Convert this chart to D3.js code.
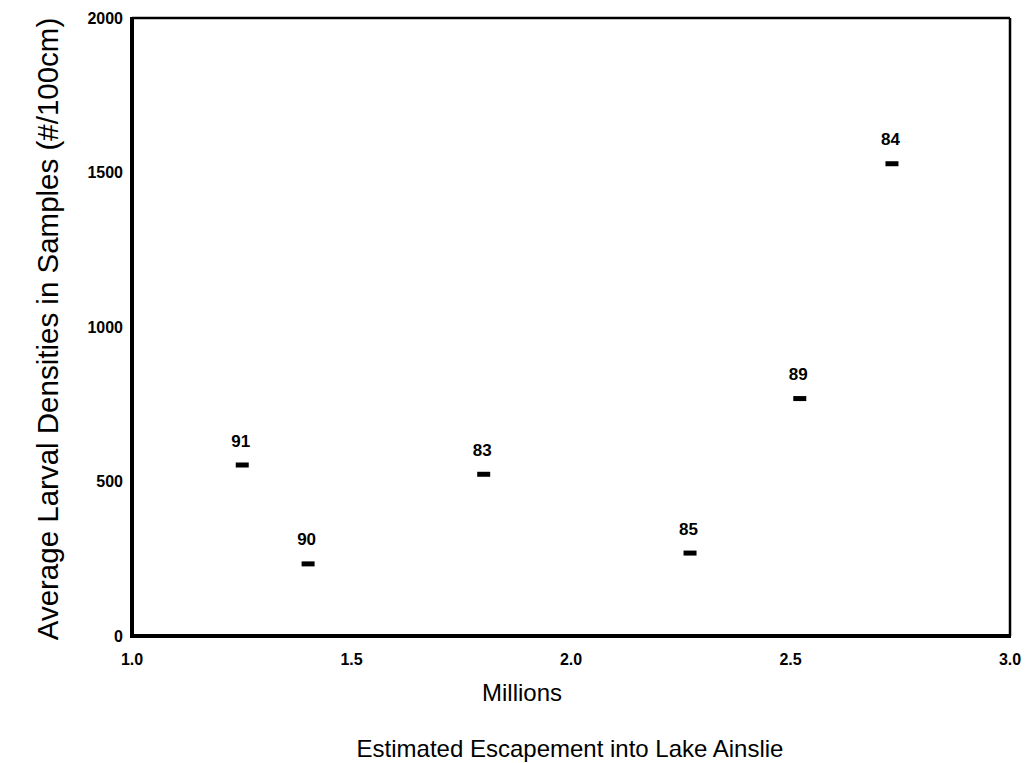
<!DOCTYPE html>
<html>
<head>
<meta charset="utf-8">
<script src="https://cdn.jsdelivr.net/npm/d3@7"></script>
<style>
  body { margin: 0; background: #fff; }
  text { font-family: "Liberation Sans", Arial, Helvetica, sans-serif; fill: #000; }
</style>
</head>
<body>
<div id="chart"></div>
<script>
// data: year label, escapement (millions), larval density
const years = ["91", "90", "83", "85", "89", "84"];
const escapement = [1.25, 1.40, 1.80, 2.27, 2.52, 2.73];
const density = [555, 235, 525, 270, 770, 1530];
const xTicks = ["1.0", "1.5", "2.0", "2.5", "3.0"];
const yTicks = [0, 500, 1000, 1500, 2000];

const width = 1029, height = 763;
const margin = { top: 18, right: 19, bottom: 127, left: 132 };

const svg = d3.select("#chart")
  .append("svg")
  .attr("width", width)
  .attr("height", height);

const x = d3.scaleLinear()
  .domain([1, 3])
  .range([margin.left, width - margin.right]);

const y = d3.scaleLinear()
  .domain([0, 2000])
  .range([height - margin.bottom, margin.top]);

// frame: heavy left/bottom, lighter top/right
svg.append("line")
  .attr("x1", x(1)).attr("x2", x(3))
  .attr("y1", y(2000)).attr("y2", y(2000))
  .attr("stroke", "#000").attr("stroke-width", 2.5);
svg.append("line")
  .attr("x1", x(3)).attr("x2", x(3))
  .attr("y1", y(2000)).attr("y2", y(0))
  .attr("stroke", "#000").attr("stroke-width", 2.5);
svg.append("line")
  .attr("x1", x(1)).attr("x2", x(1))
  .attr("y1", y(2000) - 1).attr("y2", y(0) + 2)
  .attr("stroke", "#000").attr("stroke-width", 4);
svg.append("line")
  .attr("x1", x(1) - 2).attr("x2", x(3) + 1)
  .attr("y1", y(0)).attr("y2", y(0))
  .attr("stroke", "#000").attr("stroke-width", 4);

// y tick labels
svg.selectAll(".ytick")
  .data(yTicks)
  .enter()
  .append("text")
  .attr("class", "ytick")
  .attr("x", x(1) - 9)
  .attr("y", d => y(d))
  .attr("dy", "0.35em")
  .attr("text-anchor", "end")
  .style("font-size", "16px")
  .style("font-weight", "bold")
  .text(d => d);

// x tick labels
svg.selectAll(".xtick")
  .data(xTicks)
  .enter()
  .append("text")
  .attr("class", "xtick")
  .attr("x", d => x(+d))
  .attr("y", y(0) + 29)
  .attr("text-anchor", "middle")
  .style("font-size", "16px")
  .style("font-weight", "bold")
  .text(d => d);

// axis titles
svg.append("text")
  .attr("x", 522)
  .attr("y", 701)
  .attr("text-anchor", "middle")
  .style("font-size", "24px")
  .text("Millions");

svg.append("text")
  .attr("x", 570)
  .attr("y", 757)
  .attr("text-anchor", "middle")
  .style("font-size", "24px")
  .text("Estimated Escapement into Lake Ainslie");

svg.append("text")
  .attr("transform", `translate(58, ${(y(0) + y(2000)) / 2 + 2}) rotate(-90)`)
  .attr("text-anchor", "middle")
  .style("font-size", "29.5px")
  .text("Average Larval Densities in Samples (#/100cm)");

// points: short dash markers with year labels
const pts = years.map((yr, i) => ({ yr, ex: escapement[i], d: density[i] }));

svg.selectAll(".mark")
  .data(pts)
  .enter()
  .append("rect")
  .attr("class", "mark")
  .attr("x", d => x(d.ex) - 6)
  .attr("y", d => y(d.d) - 2)
  .attr("width", 13)
  .attr("height", 5)
  .attr("fill", "#000");

svg.selectAll(".lbl")
  .data(pts)
  .enter()
  .append("text")
  .attr("class", "lbl")
  .attr("x", d => x(d.ex) - 1)
  .attr("y", d => y(d.d) - 18)
  .attr("text-anchor", "middle")
  .style("font-size", "17px")
  .style("font-weight", "bold")
  .text(d => d.yr);
</script>
</body>
</html>
